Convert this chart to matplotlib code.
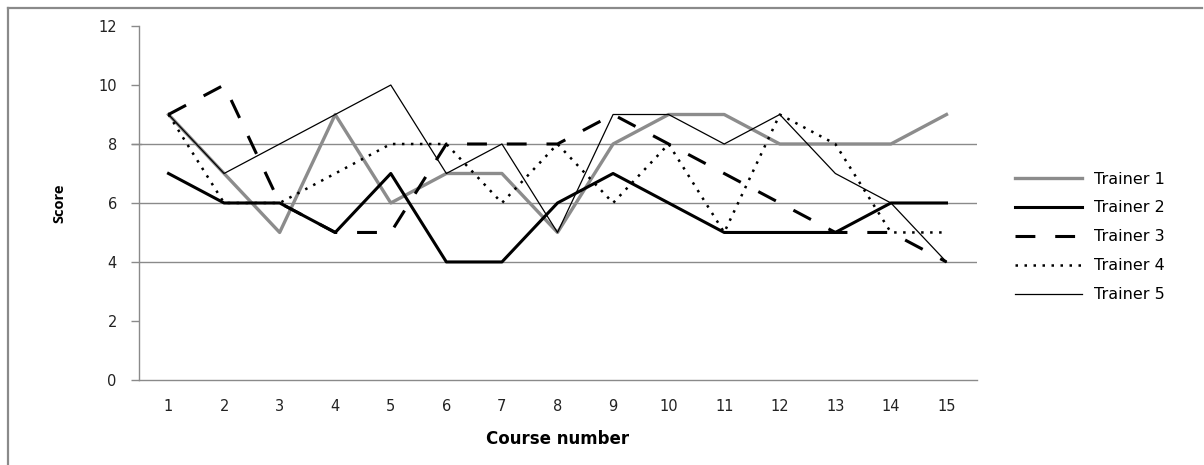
import matplotlib.pyplot as plt
from matplotlib.lines import Line2D

# course scores per trainer
courses = list(range(1, 16))
trainer1 = [9, 7, 5, 9, 6, 7, 7, 5, 8, 9, 9, 8, 8, 8, 9]
trainer2 = [7, 6, 6, 5, 7, 4, 4, 6, 7, 6, 5, 5, 5, 6, 6]
trainer3 = [9, 10, 6, 5, 5, 8, 8, 8, 9, 8, 7, 6, 5, 5, 4]
trainer4 = [9, 6, 6, 7, 8, 8, 6, 8, 6, 8, 5, 9, 8, 5, 5]
trainer5 = [9, 7, 8, 9, 10, 7, 8, 5, 9, 9, 8, 9, 7, 6, 4]
names = ["Trainer 1", "Trainer 2", "Trainer 3", "Trainer 4", "Trainer 5"]
y_ticks = [0, 2, 4, 6, 8, 10, 12]
grid_levels = [4, 6, 8]

fig = plt.figure(figsize=(12.04, 4.65), dpi=100)
ax = fig.add_axes([0.1155, 0.183, 0.696, 0.761])

grey = "#8a8a8a"
for g in grid_levels:
    ax.axhline(g, color=grey, lw=1.0, zorder=0)
# the 8 line runs out past the axis like a tick
ax.plot([0.35, 0.5], [8, 8], color=grey, lw=1.0, clip_on=False)

ax.plot(courses, trainer1, color="#8c8c8c", lw=2.4, label=names[0])
ax.plot(courses, trainer2, color="black", lw=2.2, label=names[1])
ax.plot(courses, trainer3, color="black", lw=2.2, dashes=(6.5, 6.5), label=names[2])
ax.plot(courses, trainer4, color="black", lw=1.8, dashes=(1.0, 2.6), label=names[3])
ax.plot(courses, trainer5, color="black", lw=0.9, label=names[4])

ax.set_xlim(0.47, 15.55)
ax.set_ylim(0, 12)
ax.set_xticks(courses)
ax.set_yticks(y_ticks)
ax.tick_params(axis="x", length=0, pad=14, labelsize=10.5, colors="#222222")
ax.tick_params(axis="y", length=6, width=1, color=grey, pad=10, labelsize=10.5, labelcolor="#222222")
for s in ["top", "right"]:
    ax.spines[s].set_visible(False)
for s in ["left", "bottom"]:
    ax.spines[s].set_color(grey)
    ax.spines[s].set_linewidth(1.0)

ax.set_xlabel("Course number", fontfamily="DejaVu Sans", fontweight="bold", fontsize=12, labelpad=11)
ax.set_ylabel("Score", fontfamily="Open Sans", fontweight="bold", fontsize=10.5, labelpad=23)

fig.legend(loc="upper left", bbox_to_anchor=(0.8307, 0.662), frameon=False,
           handlelength=4.2, handletextpad=0.75, labelspacing=0.87, fontsize=11.5)

# outer chart frame (left and top edges)
fig.add_artist(Line2D([8 / 1204, 8 / 1204], [0, 1 - 8 / 465], color=grey, lw=1.6))
fig.add_artist(Line2D([8 / 1204, 1202 / 1204], [1 - 8 / 465, 1 - 8 / 465], color=grey, lw=1.6))

fig.savefig("out.png", dpi=100)
